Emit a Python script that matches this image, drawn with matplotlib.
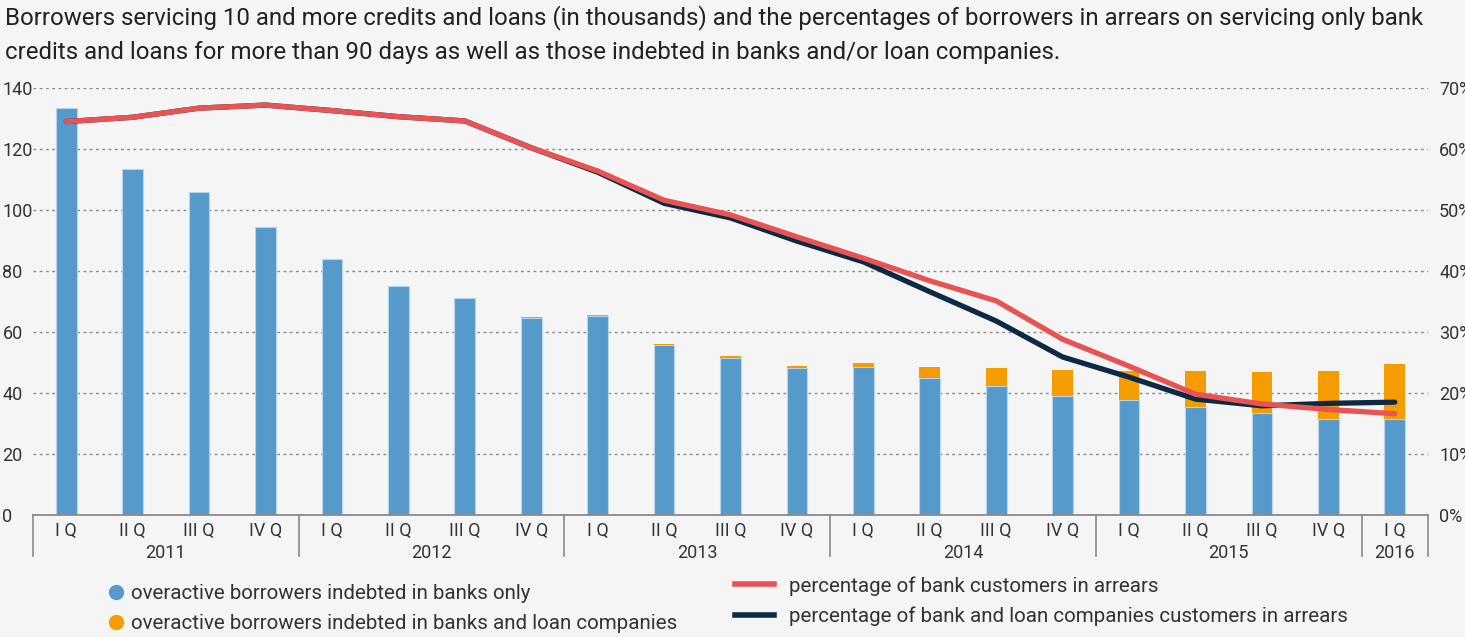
import matplotlib.pyplot as plt
from matplotlib.lines import Line2D
import numpy as np

plt.rcParams["font.family"] = ["Roboto", "DejaVu Sans"]

quarters = ["I Q", "II Q", "III Q", "IV Q"] * 5 + ["I Q"]
years = ["2011", "2012", "2013", "2014", "2015", "2016"]
year_centers = [1.5, 5.5, 9.5, 13.5, 17.5, 20]
year_edges = [-0.5, 3.5, 7.5, 11.5, 15.5, 19.5, 20.5]

# thousands of borrowers
banks_only = [133.4, 113.4, 105.9, 94.4, 83.9, 75.1, 71.1, 64.6, 65.3, 55.6, 51.5,
              48.2, 48.5, 44.9, 42.2, 39.1, 37.8, 35.5, 33.6, 31.6, 31.4]
banks_and_loan = [0, 0, 0, 0, 0, 0, 0, 0.3, 0.4, 0.5, 0.7,
                  0.8, 1.2, 3.5, 6.1, 8.3, 9.5, 11.8, 13.3, 15.7, 18.1]

# percent in arrears
pct_bank = [64.5, 65.2, 66.7, 67.2, 66.3, 65.3, 64.6, 60.2, 56.4, 51.6, 49.2,
            45.6, 42.1, 38.4, 35.1, 28.8, 24.4, 19.8, 18.2, 17.3, 16.6]
pct_bank_loan = [64.5, 65.2, 66.7, 67.2, 66.3, 65.3, 64.6, 60.2, 56.2, 51.1, 48.7,
                 44.9, 41.5, 36.6, 31.8, 25.9, 22.6, 19.0, 17.9, 18.3, 18.5]

bg = "#f5f5f5"
blue = "#5699cb"
orange = "#f59c00"
red = "#e85353"
navy = "#0d2a45"
txt = "#333333"

fig = plt.figure(figsize=(14.65, 6.37), dpi=100, facecolor=bg)
ax = fig.add_axes([33 / 1465, 122 / 637, 1395 / 1465, 427 / 637], facecolor=bg)

x = np.arange(len(quarters))
ax.bar(x, banks_only, width=0.31, color=blue, edgecolor="#b9d3ea", linewidth=0.8, zorder=2)
ax.bar(x, banks_and_loan, width=0.31, bottom=banks_only, color=orange, linewidth=0, zorder=2)

ax.set_xlim(-0.5, 20.5)
ax.set_ylim(0, 140)
ax.set_yticks(range(0, 141, 20))
ax.grid(axis="y", linestyle=(0, (2, 2.5)), color="#8a8a8a", linewidth=1, zorder=0)
for s in ["top", "left", "right"]:
    ax.spines[s].set_visible(False)
ax.spines["bottom"].set_color("#8a8a8a")
ax.spines["bottom"].set_linewidth(1.3)
ax.tick_params(axis="y", length=0, pad=22, labelsize=13, labelcolor=txt)
for lab in ax.get_yticklabels():
    lab.set_horizontalalignment("left")
ax.set_xticks(x)
ax.set_xticklabels(quarters)
ax.tick_params(axis="x", length=0, pad=5, labelsize=13, labelcolor=txt)

# year separators and labels
trans = ax.get_xaxis_transform()
for e in year_edges:
    ax.plot([e, e], [0, -0.095], transform=trans, color="#8a8a8a", lw=1.2, clip_on=False)
for yc, yr in zip(year_centers, years):
    ax.text(yc, -0.088, yr, transform=trans, ha="center", va="center", fontsize=13, color=txt)

ax2 = ax.twinx()
ax2.set_ylim(0, 70)
ax2.set_yticks(range(0, 71, 10))
ax2.set_yticklabels([f"{v}%" for v in range(0, 71, 10)])
ax2.tick_params(axis="y", length=0, pad=8, labelsize=13, labelcolor=txt)
for s in ax2.spines.values():
    s.set_visible(False)
ax2.plot(x, pct_bank_loan, color=navy, lw=3.8, solid_capstyle="round", solid_joinstyle="round")
ax2.plot(x, pct_bank, color=red, lw=3.8, solid_capstyle="round", solid_joinstyle="round")

fig.text(5 / 1465, 1 - 5 / 637,
         "Borrowers servicing 10 and more credits and loans (in thousands) and the percentages of borrowers in arrears on servicing only bank\n"
         "credits and loans for more than 90 days as well as those indebted in banks and/or loan companies.",
         ha="left", va="top", fontsize=17.3, color="#222222", linespacing=1.63)

h1 = [Line2D([], [], marker="o", ls="", color=blue, markersize=10),
      Line2D([], [], marker="o", ls="", color=orange, markersize=10)]
fig.legend(h1, ["overactive borrowers indebted in banks only",
                "overactive borrowers indebted in banks and loan companies"],
           loc="upper left", bbox_to_anchor=(108 / 1465, 1 - 584 / 637), frameon=False,
           fontsize=14.8, handlelength=0.8, handletextpad=0.3, labelspacing=0.55,
           borderpad=0, borderaxespad=0, labelcolor=txt)
h2 = [Line2D([], [], color=red, lw=4), Line2D([], [], color=navy, lw=4)]
fig.legend(h2, ["percentage of bank customers in arrears",
                "percentage of bank and loan companies customers in arrears"],
           loc="upper left", bbox_to_anchor=(735 / 1465, 1 - 576 / 637), frameon=False,
           fontsize=14.8, handlelength=1.9, handletextpad=0.75, labelspacing=0.55,
           borderpad=0, borderaxespad=0, labelcolor=txt)

fig.savefig("out.png", dpi=100, facecolor=bg)
